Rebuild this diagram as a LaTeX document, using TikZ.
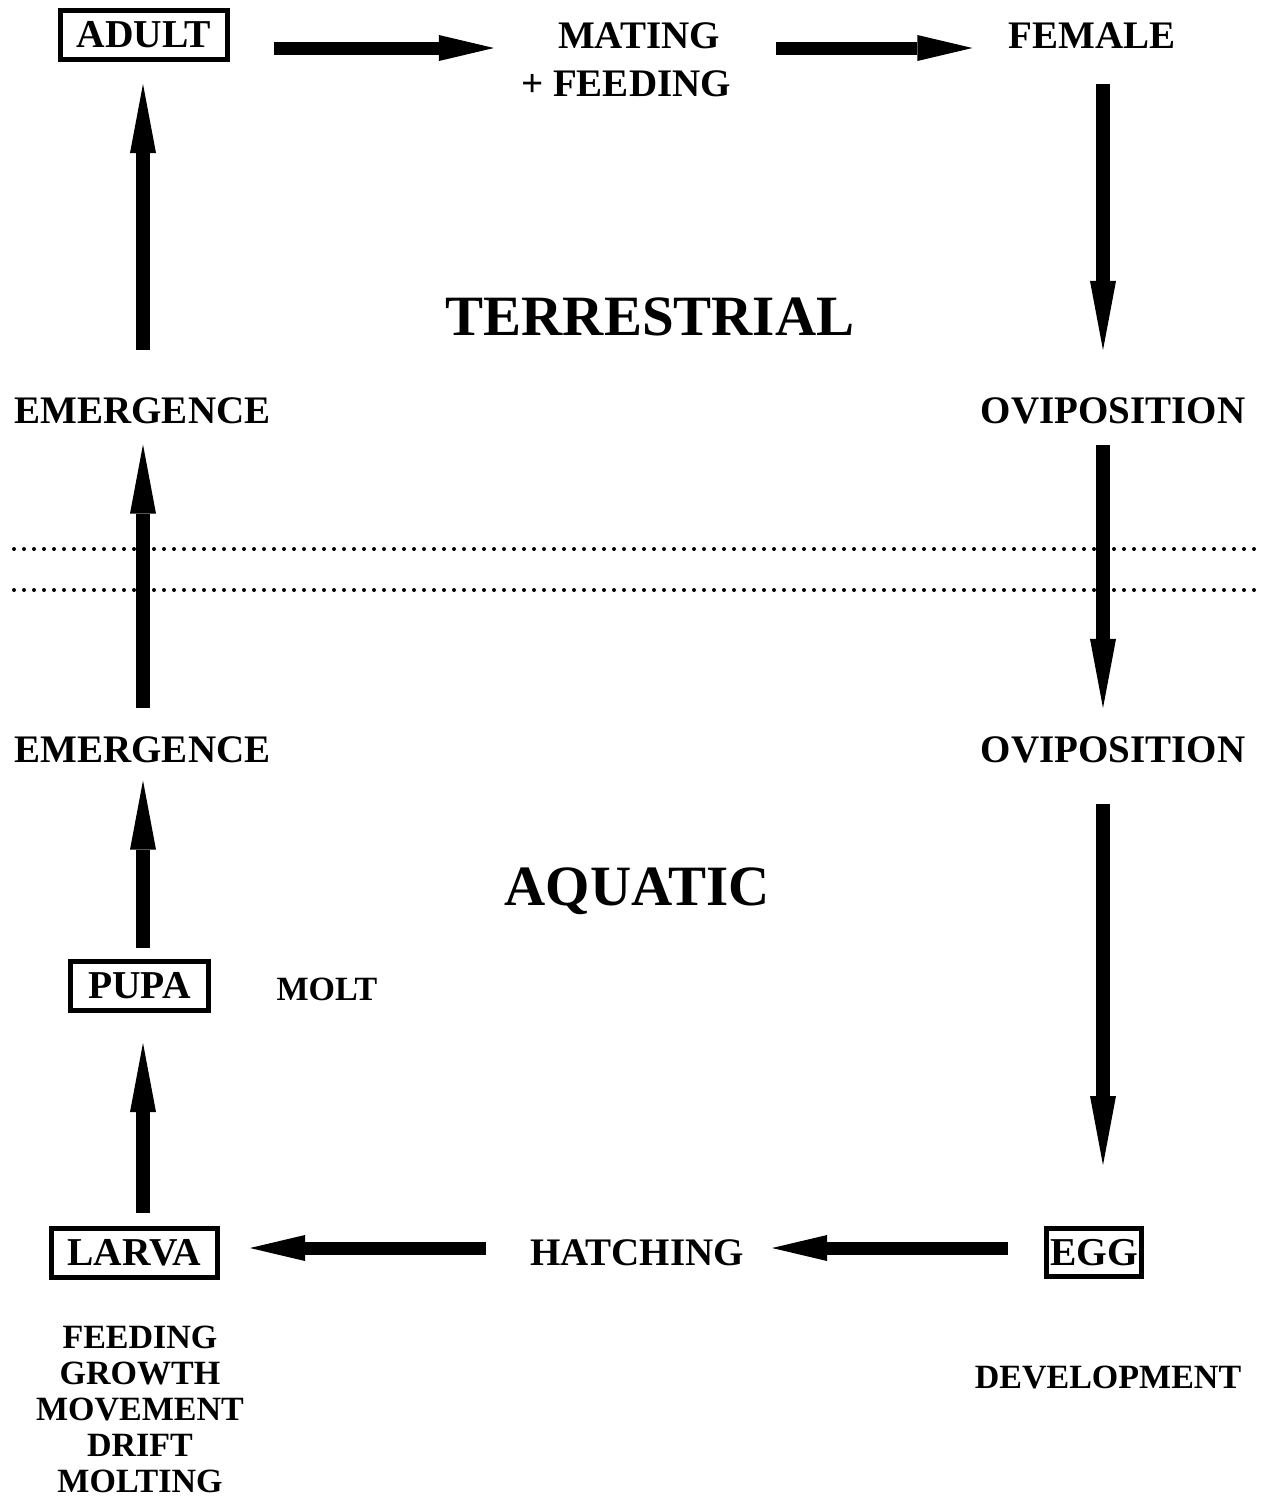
\documentclass[tikz,border=0pt]{standalone}
\usepackage{fontspec}
\setmainfont{Liberation Serif}
\usetikzlibrary{arrows.meta}
\begin{document}
\begin{tikzpicture}[x=1pt,y=-1pt,
 lbl/.style={font=\fontsize{39}{47}\selectfont\bfseries, inner sep=0pt, anchor=base},
 sml/.style={font=\fontsize{34}{36}\selectfont\bfseries, inner sep=0pt},
 big/.style={font=\fontsize{57}{60}\selectfont\bfseries, inner sep=0pt, anchor=base},
 stage/.style={draw, line width=5pt, font=\fontsize{39.5}{47}\selectfont\bfseries, inner sep=0pt},
 harrow/.style={line width=13pt, -{Triangle[length=55pt,width=26pt,line width=0pt 0 0]}},
 varrow/.style={line width=14pt, -{Triangle[length=69pt,width=26pt,line width=0pt 0 0]}},
 dotline/.style={line width=4pt, line cap=round, dash pattern=on 0pt off 10pt}]
\useasboundingbox (0,0) rectangle (1264,1500);

% water surface
\draw[dotline] (14,549) -- (1258,549);
\draw[dotline] (14,590) -- (1258,590);

% columns
\coordinate (lcol) at (143,0);
\coordinate (rcol) at (1103,0);

% stage boxes
\node[stage, minimum width=167pt, minimum height=49pt] (adult) at (144,35) {ADULT};
\node[stage, minimum width=138pt, minimum height=49pt] (pupa) at (139.5,986) {PUPA};
\node[stage, minimum width=166pt, minimum height=49pt] (larva) at (134.5,1253) {LARVA};
\node[stage, minimum width=95pt, minimum height=48pt] (egg) at (1094,1252.5) {EGG};

% labels
\node[lbl] (mating) at (639,48) {MATING};
\node[lbl] (matingb) at (626,96) {+ FEEDING};
\node[lbl] (female) at (1092,48) {FEMALE};
\node[big] (terr) at (650,335) {TERRESTRIAL};
\node[lbl] (em1) at (142.5,423) {EMERGENCE};
\node[lbl] (ov1) at (1113,423) {OVIPOSITION};
\node[lbl] (em2) at (142.5,762) {EMERGENCE};
\node[lbl] (ov2) at (1113,762) {OVIPOSITION};
\node[big] (aqua) at (637,905) {AQUATIC};
\node[sml, anchor=base] (molt) at (327,1000) {MOLT};
\node[lbl] (hatch) at (637,1265) {HATCHING};
\node[sml, anchor=base] (devel) at (1108,1388) {DEVELOPMENT};
\node[sml, anchor=north, align=center] (larvact) at (140,1326)
  {FEEDING\\GROWTH\\MOVEMENT\\DRIFT\\MOLTING};

% cycle arrows
\draw[harrow, shorten <=44pt, shorten >=64pt] (adult.east |- mating.base) -- (mating.base west);
\draw[harrow, shorten <=56pt, shorten >=36pt] (mating.base east) -- (female.base west);
\draw[varrow, shorten <=36pt, shorten >=47pt] (female.south -| rcol) -- (ov1.north -| rcol);
\draw[varrow, shorten <=21pt, shorten >=28pt] (ov1.south -| rcol) -- (ov2.north -| rcol);
\draw[varrow, shorten <=41pt, shorten >=61pt] (ov2.south -| rcol) -- (egg.north -| rcol);
\draw[harrow, shorten <=36pt, shorten >=28pt] ([yshift=4.5pt]egg.west) -- ([yshift=4.5pt]egg.west -| hatch.east);
\draw[harrow, shorten <=44pt, shorten >=30pt] ([yshift=4.5pt]egg.west -| hatch.west) -- ([yshift=4.5pt]egg.west -| larva.east);
\draw[varrow, shorten <=13pt, shorten >=30pt] (larva.north -| lcol) -- (pupa.south -| lcol);
\draw[varrow, shorten <=11pt, shorten >=18pt] (pupa.north -| lcol) -- (em2.south -| lcol);
\draw[varrow, shorten <=28pt, shorten >=21pt] (em2.north -| lcol) -- (em1.south -| lcol);
\draw[varrow, shorten <=47pt, shorten >=22pt] (em1.north -| lcol) -- (adult.south -| lcol);
\end{tikzpicture}
\end{document}
